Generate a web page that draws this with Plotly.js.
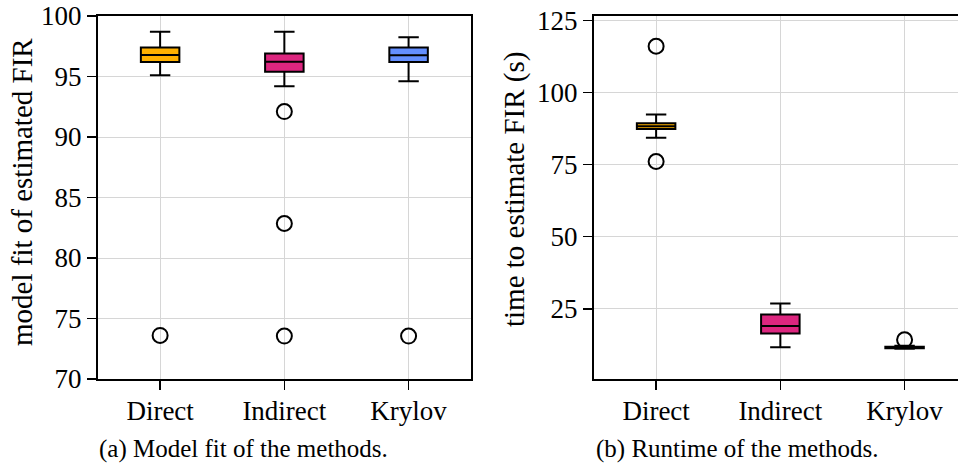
<!DOCTYPE html>
<html><head><meta charset="utf-8">
<script src="https://cdn.plot.ly/plotly-3.0.1.min.js"></script>
<style>html,body{margin:0;padding:0;background:#fff}#chart{width:958px;height:466px}</style>
</head><body><div id="chart"></div>
<script>
const methods = ["Direct", "Indirect", "Krylov"];
const colors = ["#FFB000", "#DC267F", "#648FFF"];

// (a) model fit of estimated FIR
const fitLower  = [95.1, 94.2, 94.6];
const fitQ1     = [96.2, 95.4, 96.2];
const fitMedian = [96.78, 96.22, 96.75];
const fitQ3     = [97.4, 96.9, 97.4];
const fitUpper  = [98.7, 98.7, 98.25];
const fitOutliers = [[73.6], [92.1, 82.85, 73.55], [73.55]];

// (b) time to estimate FIR (s)
const timeLower  = [84.3, 11.6, 11.1];
const timeQ1     = [87.4, 16.4, 11.3];
const timeMedian = [88.3, 19.0, 11.5];
const timeQ3     = [89.4, 23.0, 11.8];
const timeUpper  = [92.4, 26.8, 12.1];
const timeOutliers = [[116.1, 76.1], [], [14.2]];

const yTicksA = [70, 75, 80, 85, 90, 95, 100];
const yTicksB = [25, 50, 75, 100, 125];

const FONT = "Liberation Serif, 'DejaVu Serif', serif";
const traces = [];
function addPanel(lo, q1, med, q3, hi, outl, xa, ya) {
  methods.forEach((m, i) => {
    traces.push({
      type: 'box', x: [i], q1: [q1[i]], median: [med[i]], q3: [q3[i]],
      lowerfence: [lo[i]], upperfence: [hi[i]],
      width: 0.31, whiskerwidth: 0.53, fillcolor: colors[i],
      line: {color: 'black', width: 2}, boxpoints: false,
      xaxis: xa, yaxis: ya, showlegend: false, hoverinfo: 'skip'
    });
    if (outl[i].length) {
      traces.push({
        type: 'scatter', mode: 'markers', x: outl[i].map(() => i), y: outl[i],
        marker: {symbol: 'circle-open', size: 15, color: 'black', line: {width: 2, color: 'black'}},
        xaxis: xa, yaxis: ya, showlegend: false, hoverinfo: 'skip', cliponaxis: false
      });
    }
  });
}
addPanel(fitLower, fitQ1, fitMedian, fitQ3, fitUpper, fitOutliers, 'x', 'y');
addPanel(timeLower, timeQ1, timeMedian, timeQ3, timeUpper, timeOutliers, 'x2', 'y2');

const axBase = {
  showgrid: true, gridcolor: '#d6d6d6', gridwidth: 1,
  showline: true, linecolor: 'black', linewidth: 2,
  ticks: 'outside', ticklen: 9, tickwidth: 1.6, tickcolor: 'black',
  zeroline: false, tickfont: {family: FONT, size: 27, color: 'black'}
};
const yDom = [1 - 379 / 466, 1 - 16 / 466];
const layout = {
  width: 958, height: 466,
  margin: {l: 0, r: 0, t: 0, b: 0},
  paper_bgcolor: 'white', plot_bgcolor: 'white',
  font: {family: FONT, color: 'black'},
  xaxis: Object.assign({}, axBase, {domain: [98 / 958, 470.7 / 958], range: [-0.5, 2.5],
    tickvals: [0, 1, 2], ticktext: methods, mirror: true, anchor: 'y', ticklabelstandoff: -2}),
  yaxis: Object.assign({}, axBase, {domain: yDom, range: [70, 100], tickvals: yTicksA,
    mirror: true, anchor: 'x'}),
  xaxis2: Object.assign({}, axBase, {domain: [594 / 958, 1], range: [-0.5, 2.43],
    tickvals: [0, 1, 2], ticktext: methods, mirror: true, anchor: 'y2', ticklabelstandoff: -2}),
  yaxis2: Object.assign({}, axBase, {domain: yDom, range: [0.6, 126.6], tickvals: yTicksB,
    mirror: false, anchor: 'x2'}),
  annotations: [
    {text: 'model fit of estimated FIR', xref: 'paper', yref: 'paper', x: 22 / 958, y: 1 - 192 / 466,
     xanchor: 'center', yanchor: 'middle',
     textangle: -90, showarrow: false, font: {family: FONT, size: 29, color: 'black'}},
    {text: 'time to estimate FIR (s)', xref: 'paper', yref: 'paper', x: 514 / 958, y: 1 - 190 / 466,
     xanchor: 'center', yanchor: 'middle',
     textangle: -90, showarrow: false, font: {family: FONT, size: 29, color: 'black'}},
    {text: '(a) Model fit of the methods.', xref: 'paper', yref: 'paper', x: 243 / 958, y: 1 - 449 / 466,
     xanchor: 'center', yanchor: 'middle', borderpad: 0,
     showarrow: false, font: {family: FONT, size: 25, color: 'black'}},
    {text: '(b) Runtime of the methods.', xref: 'paper', yref: 'paper', x: 737 / 958, y: 1 - 449 / 466,
     xanchor: 'center', yanchor: 'middle', borderpad: 0,
     showarrow: false, font: {family: FONT, size: 25, color: 'black'}}
  ]
};
Plotly.newPlot('chart', traces, layout, {staticPlot: true, displayModeBar: false});
</script>
</body></html>
